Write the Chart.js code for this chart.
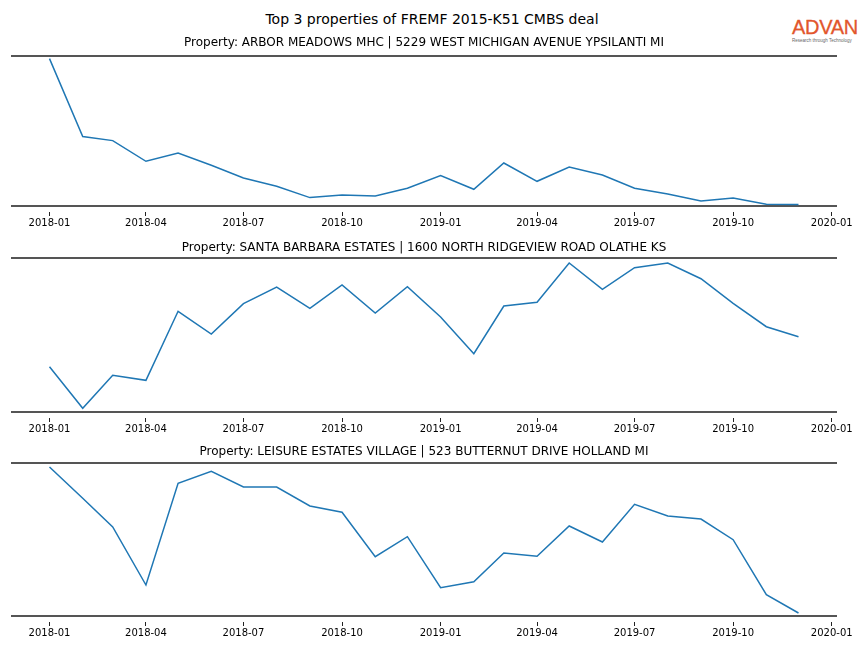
<!DOCTYPE html>
<html>
<head>
<meta charset="utf-8">
<title>Top 3 properties of FREMF 2015-K51 CMBS deal</title>
<script src="https://cdn.jsdelivr.net/npm/chart.js@4.4.0/dist/chart.umd.min.js"></script>
<style>
    body { margin: 0; background: #fff; }
    #pagina { position: relative; width: 864px; height: 648px; font-family: 'DejaVu Sans', sans-serif; overflow: hidden; }
    #titulo { position: absolute; left: 0; top: 11px; width: 864px; text-align: center; font-size: 14px; line-height: 17px; color: #000; }
    #logo { position: absolute; left: 792px; top: 16px; width: 68px; }
    #logo .marca { font-family: 'Liberation Sans', sans-serif; font-size: 20px; line-height: 22px; color: #e2562c; letter-spacing: -0.3px; -webkit-text-stroke: 0.3px #e2562c; }
    #logo .lema { font-family: 'Liberation Sans', sans-serif; font-size: 4.5px; line-height: 5px; color: #666; white-space: nowrap; }
</style>
</head>
<body>
<div id="pagina">
    <div id="titulo">Top 3 properties of FREMF 2015-K51 CMBS deal</div>
    <div id="logo"><div class="marca">ADVAN</div><div class="lema">Research through Technology</div></div>
</div>
<script>
// meses de la serie
const meses = ['2018-01', '2018-02', '2018-03', '2018-04', '2018-05', '2018-06',
    '2018-07', '2018-08', '2018-09', '2018-10', '2018-11', '2018-12',
    '2019-01', '2019-02', '2019-03', '2019-04', '2019-05', '2019-06',
    '2019-07', '2019-08', '2019-09', '2019-10', '2019-11', '2019-12']

const mesesEje = ['2018-01', '2018-04', '2018-07', '2018-10', '2019-01', '2019-04', '2019-07', '2019-10', '2020-01']

const propiedades = [
    'Property: ARBOR MEADOWS MHC | 5229 WEST MICHIGAN AVENUE YPSILANTI MI',
    'Property: SANTA BARBARA ESTATES | 1600 NORTH RIDGEVIEW ROAD OLATHE KS',
    'Property: LEISURE ESTATES VILLAGE | 523 BUTTERNUT DRIVE HOLLAND MI'
]

// visitas (indice)
const arborMeadows = [147.4, 69.4, 65.4, 44.7, 53.0, 40.7, 28.0, 19.7, 8.4, 11.0, 10.0, 17.7,
    30.4, 16.7, 43.0, 24.7, 39.0, 31.0, 17.7, 12.0, 5.0, 8.0, 1.7, 1.4]
const santaBarbara = [45.3, 3.7, 36.7, 31.7, 100.7, 78.0, 108.3, 125.0, 103.7, 127.0, 99.0, 125.3,
    95.0, 58.3, 106.0, 109.7, 149.0, 122.7, 144.3, 149.0, 133.3, 108.7, 85.3, 75.3]
const leisureEstates = [149.0, 117.7, 89.0, 31.0, 132.7, 144.7, 129.0, 129.0, 110.0, 103.7, 59.3, 79.3,
    28.3, 34.3, 63.0, 59.7, 90.0, 74.0, 111.7, 100.0, 97.0, 76.3, 21.3, 3.0]

const series = [arborMeadows, santaBarbara, leisureEstates]
const limitesY = [150, 154, 153]

// posicion de cada panel en la pagina
const paneles = [
    { arriba: 36, borde: 5.6, alto: 150 },
    { arriba: 241, borde: 2.6, alto: 153.5 },
    { arriba: 445, borde: 3.6, alto: 153 }
]

function dias(mes) {
    let [a, m] = mes.split('-').map(Number)
    return (Date.UTC(a, m - 1, 1) - Date.UTC(2018, 0, 1)) / 86400000
}

const etiquetas = {}
mesesEje.forEach(m => { etiquetas[dias(m)] = m })
const xMin = -35
const xMax = dias('2019-12') + 35

function crearPanel(i) {
    const p = paneles[i]
    const canvas = document.createElement('canvas')
    canvas.width = 864
    canvas.height = Math.round(14.4 + p.borde + p.alto + 30)
    canvas.style.position = 'absolute'
    canvas.style.left = '0px'
    canvas.style.top = p.arriba + 'px'
    document.getElementById('pagina').appendChild(canvas)

    const puntos = meses.map((m, j) => ({ x: dias(m), y: series[i][j] }))

    new Chart(canvas, {
        type: 'line',
        data: {
            datasets: [{
                data: puntos,
                borderColor: '#1f77b4',
                borderWidth: 1.5,
                pointRadius: 0,
                tension: 0,
                fill: false
            }]
        },
        options: {
            responsive: false,
            animation: false,
            devicePixelRatio: 1,
            layout: { padding: { left: 12, right: 28, top: 0, bottom: 0 } },
            plugins: {
                legend: { display: false },
                tooltip: { enabled: false },
                title: {
                    display: true,
                    text: propiedades[i],
                    color: '#000',
                    font: { family: 'DejaVu Sans', size: 12, weight: 'normal' },
                    padding: { top: 0, bottom: 0 }
                }
            },
            scales: {
                x: {
                    type: 'linear',
                    min: xMin,
                    max: xMax,
                    afterBuildTicks: s => { s.ticks = mesesEje.map(m => ({ value: dias(m) })) },
                    afterFit: s => { s.height = 30 },
                    ticks: {
                        callback: v => etiquetas[v],
                        color: '#000',
                        font: { family: 'DejaVu Sans', size: 10 },
                        padding: 1,
                        maxRotation: 0,
                        autoSkip: false
                    },
                    grid: {
                        drawOnChartArea: false,
                        drawTicks: true,
                        tickLength: 10,
                        tickColor: '#222',
                        tickWidth: 1,
                        tickBorderDash: [0, 5, 4, 100]
                    },
                    border: { display: true, color: '#555', width: 2 }
                },
                x2: {
                    type: 'linear',
                    position: 'top',
                    min: xMin,
                    max: xMax,
                    afterFit: s => { s.height = p.borde },
                    ticks: { display: false },
                    grid: { drawOnChartArea: false, drawTicks: false },
                    border: { display: true, color: '#555', width: 2 }
                },
                y: { display: false, min: 0, max: limitesY[i] }
            }
        }
    })
}

[0, 1, 2].forEach(i => crearPanel(i))
</script>
</body>
</html>
